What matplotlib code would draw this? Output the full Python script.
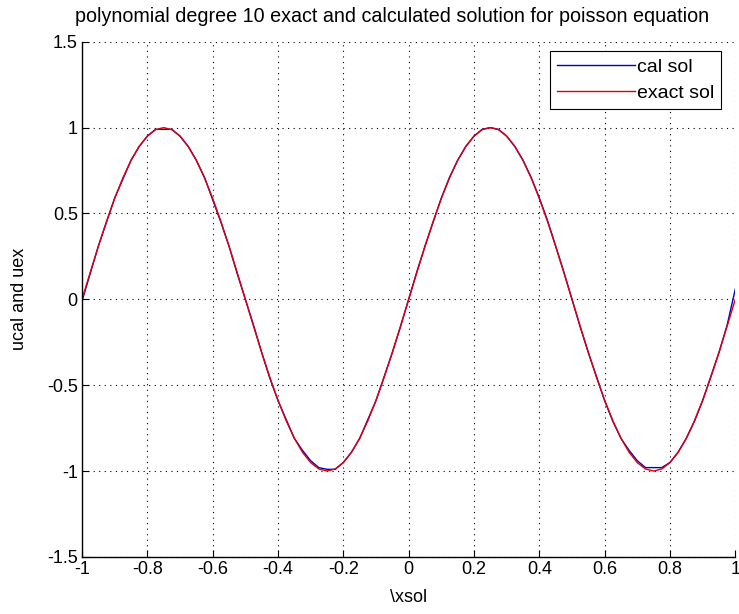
import numpy as np
from matplotlib import pyplot as plt

plt.rcParams['font.family'] = ['Liberation Sans', 'DejaVu Sans']

# node positions on [-1, 1]
xsol = np.linspace(-1, 1, 81)

# exact solution values at the nodes
uex = [0.0, 0.156, 0.309, 0.454, 0.588, 0.707, 0.809, 0.891, 0.951, 0.988,
       1.0, 0.988, 0.951, 0.891, 0.809, 0.707, 0.588, 0.454, 0.309, 0.156,
       0.0, -0.156, -0.309, -0.454, -0.588, -0.707, -0.809, -0.891, -0.951, -0.988,
       -1.0, -0.988, -0.951, -0.891, -0.809, -0.707, -0.588, -0.454, -0.309, -0.156,
       0.0, 0.156, 0.309, 0.454, 0.588, 0.707, 0.809, 0.891, 0.951, 0.988,
       1.0, 0.988, 0.951, 0.891, 0.809, 0.707, 0.588, 0.454, 0.309, 0.156,
       0.0, -0.156, -0.309, -0.454, -0.588, -0.707, -0.809, -0.891, -0.951, -0.988,
       -1.0, -0.988, -0.951, -0.891, -0.809, -0.707, -0.588, -0.454, -0.309, -0.156,
       0.0]

# calculated solution (slightly off near the extrema)
ucal = [-0.01, 0.15, 0.31, 0.45, 0.59, 0.70, 0.81, 0.89, 0.95, 0.99,
        0.99, 0.99, 0.95, 0.89, 0.81, 0.71, 0.58, 0.45, 0.31, 0.15,
        0.0, -0.15, -0.31, -0.46, -0.59, -0.70, -0.81, -0.88, -0.94, -0.98,
        -0.99, -0.99, -0.95, -0.89, -0.81, -0.70, -0.59, -0.45, -0.31, -0.16,
        0.0, 0.16, 0.31, 0.45, 0.59, 0.71, 0.81, 0.89, 0.95, 0.99,
        1.0, 0.99, 0.95, 0.89, 0.81, 0.71, 0.59, 0.46, 0.31, 0.16,
        0.0, -0.16, -0.31, -0.45, -0.59, -0.71, -0.81, -0.88, -0.94, -0.98,
        -0.98, -0.98, -0.95, -0.89, -0.81, -0.71, -0.59, -0.45, -0.31, -0.15,
        0.06]

xticks = [-1, -0.8, -0.6, -0.4, -0.2, 0, 0.2, 0.4, 0.6, 0.8, 1]
yticks = [-1.5, -1, -0.5, 0, 0.5, 1, 1.5]

fig = plt.figure(figsize=(7.39, 6.14), dpi=100)
ax = fig.add_axes([0.111, 0.093, 0.884, 0.839])

ax.plot(xsol, ucal, color='#0000c8', lw=1.0, label='cal sol')
ax.plot(xsol, uex, color='#e00000', lw=1.0, label='exact sol')

ax.set_xlim(-1, 1)
ax.set_ylim(-1.5, 1.5)
ax.set_xticks(xticks)
ax.set_yticks(yticks)
ax.set_xticklabels(['-1', '-0.8', '-0.6', '-0.4', '-0.2', '0', '0.2', '0.4', '0.6', '0.8', '1'])
ax.set_yticklabels(['-1.5', '-1', '-0.5', '0', '0.5', '1', '1.5'])
ax.tick_params(direction='in', length=5, width=0.8, labelsize=13, pad=3)
for side in ['top', 'right']:
    ax.spines[side].set_visible(False)
for side in ['left', 'bottom']:
    ax.spines[side].set_linewidth(1.0)

ax.grid(True, color='black', linestyle=(0, (1, 4)), lw=0.8)

ax.set_title('polynomial degree 10 exact and calculated solution for poisson equation',
             fontsize=14.2, pad=14, x=0.475)
ax.set_xlabel('\\xsol', fontsize=13, labelpad=8)
ax.set_ylabel('ucal and uex', fontsize=13, labelpad=14)

leg = ax.legend(loc='upper right', bbox_to_anchor=(0.987, 0.993), fancybox=False,
                edgecolor='black', fontsize=14, handlelength=4.0, handletextpad=0.1,
                borderaxespad=0.3, borderpad=0.35, labelspacing=0.45, framealpha=1)
leg.get_frame().set_linewidth(0.8)

plt.savefig('out.png', dpi=100)
